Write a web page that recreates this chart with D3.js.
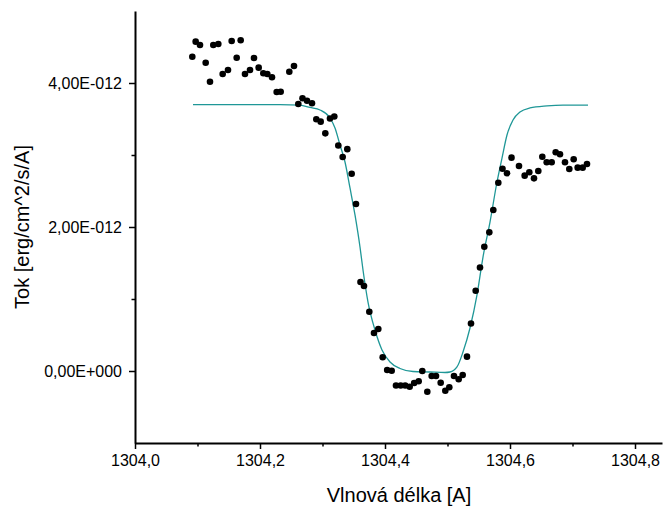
<!DOCTYPE html>
<html>
<head>
<meta charset="utf-8">
<script src="https://cdn.jsdelivr.net/npm/d3@7"></script>
<style>
  html, body { margin: 0; padding: 0; background: #fff; }
  svg { display: block; }
  text { font-family: "Liberation Sans", Arial, sans-serif; }
</style>
</head>
<body>
<svg id="chart" width="664" height="509"></svg>
<script>
// ---- data (flux in units of 1e-12 erg/cm^2/s/A) ----
const obsWave = [
  1304.0917, 1304.0971, 1304.1040, 1304.1131, 1304.1200, 1304.1253, 1304.1333, 1304.1403,
  1304.1488, 1304.1547, 1304.1627, 1304.1691, 1304.1760, 1304.1840, 1304.1904, 1304.1979,
  1304.2053, 1304.2117, 1304.2192, 1304.2267, 1304.2331, 1304.2469, 1304.2544, 1304.2613,
  1304.2680, 1304.2752, 1304.2832, 1304.2901, 1304.2971, 1304.3045, 1304.3120, 1304.3189,
  1304.3253, 1304.3323, 1304.3397, 1304.3467, 1304.3536, 1304.3608, 1304.3664, 1304.3749,
  1304.3824, 1304.3893, 1304.3963, 1304.4035, 1304.4107, 1304.4176, 1304.4251, 1304.4323,
  1304.4395, 1304.4467, 1304.4539, 1304.4597, 1304.4677, 1304.4747, 1304.4816, 1304.4891,
  1304.4965, 1304.5029, 1304.5104, 1304.5179, 1304.5243, 1304.5312, 1304.5376, 1304.5451,
  1304.5520, 1304.5589, 1304.5669, 1304.5733, 1304.5813, 1304.5880, 1304.5952, 1304.6024,
  1304.6144, 1304.6235, 1304.6309, 1304.6384, 1304.6453, 1304.6517, 1304.6587, 1304.6667,
  1304.6731, 1304.6800, 1304.6880, 1304.6949, 1304.7019, 1304.7083, 1304.7163, 1304.7232
];
const obsFlux = [
  4.365, 4.574, 4.528, 4.282, 4.018, 4.528, 4.542, 4.125,
  4.181, 4.583, 4.351, 4.593, 4.125, 4.181, 4.347, 4.213,
  4.135, 4.125, 4.079, 3.875, 3.879, 4.157, 4.236, 3.708,
  3.788, 3.753, 3.718, 3.496, 3.463, 3.301, 3.507, 3.535,
  3.132, 2.972, 3.081, 2.739, 2.319, 1.236, 1.181, 0.822,
  0.528, 0.583, 0.192, 0.014, 0.004, -0.201, -0.201, -0.201,
  -0.218, -0.167, -0.142, 0.000, -0.288, -0.069, -0.069, -0.163,
  -0.274, -0.226, -0.069, -0.115, -0.056, 0.199, 0.660, 1.115,
  1.438, 1.726, 1.926, 2.236, 2.615, 2.810, 2.746, 2.963,
  2.847, 2.713, 2.760, 2.676, 2.778, 2.976, 2.899, 2.899,
  3.038, 3.010, 2.899, 2.806, 2.940, 2.824, 2.824, 2.875
];
const fitWave = [
  1304.0928, 1304.2320, 1304.2640, 1304.2800, 1304.2960, 1304.3120, 1304.3200, 1304.3280,
  1304.3360, 1304.3440, 1304.3520, 1304.3600, 1304.3648, 1304.3728, 1304.3840, 1304.3952,
  1304.4080, 1304.4240, 1304.4448, 1304.4720, 1304.4960, 1304.5040, 1304.5152, 1304.5248,
  1304.5360, 1304.5472, 1304.5568, 1304.5680, 1304.5792, 1304.5872, 1304.5952, 1304.6048,
  1304.6160, 1304.6320, 1304.6592, 1304.6848, 1304.7248
];
const fitFlux = [
  3.701, 3.701, 3.694, 3.660, 3.625, 3.514, 3.375, 3.139,
  2.903, 2.542, 2.167, 1.722, 1.403, 0.958, 0.569, 0.292,
  0.125, 0.035, -0.007, -0.014, -0.021, -0.014, 0.056, 0.264,
  0.597, 1.056, 1.583, 2.069, 2.625, 2.958, 3.278, 3.486,
  3.597, 3.653, 3.683, 3.694, 3.694
];
const xMajorTicks = [1304.0, 1304.2, 1304.4, 1304.6, 1304.8];
const xMajorLabels = ["1304,0", "1304,2", "1304,4", "1304,6", "1304,8"];
const xMinorTicks = [1304.1, 1304.3, 1304.5, 1304.7];
const yMajorTicks = [0, 2, 4];
const yMajorLabels = ["0,00E+000", "2,00E-012", "4,00E-012"];
const yMinorTicks = [1, 3];
const xTitle = "Vlnová délka [A]";
const yTitle = "Tok [erg/cm^2/s/A]";

// ---- layout ----
const svg = d3.select("#chart");
const pLeft = 135, pRight = 662, pTop = 11, pBottom = 443;

const x = d3.scaleLinear().domain([1304.0, 1304.8432]).range([pLeft, pRight]);
const y = d3.scaleLinear().domain([-1, 5]).range([pBottom, pTop]);

// fitted curve
const line = d3.line()
  .x((d, i) => x(fitWave[i]))
  .y((d, i) => y(fitFlux[i]))
  .curve(d3.curveMonotoneX);
svg.append("path")
  .datum(fitFlux)
  .attr("d", line)
  .attr("fill", "none")
  .attr("stroke", "#1f9797")
  .attr("stroke-width", 1.3);

// observed points
svg.append("g").selectAll("circle")
  .data(obsFlux)
  .join("circle")
  .attr("cx", (d, i) => x(obsWave[i]))
  .attr("cy", d => y(d))
  .attr("r", 3.3)
  .attr("fill", "#000");

// axes
const fontSize = 16;
const xAxis = d3.axisBottom(x)
  .tickValues(xMajorTicks)
  .tickFormat((d, i) => xMajorLabels[i])
  .tickSize(6).tickSizeOuter(0).tickPadding(6);
const gx = svg.append("g").attr("transform", `translate(0,${pBottom})`).call(xAxis);
gx.selectAll("text").attr("font-size", fontSize).attr("fill", "#000");

const xMinor = d3.axisBottom(x).tickValues(xMinorTicks).tickFormat("").tickSize(3.5).tickSizeOuter(0);
const gxm = svg.append("g").attr("transform", `translate(0,${pBottom})`).call(xMinor);
gxm.select(".domain").remove();

const yAxis = d3.axisLeft(y)
  .tickValues(yMajorTicks)
  .tickFormat((d, i) => yMajorLabels[i])
  .tickSize(6).tickSizeOuter(0).tickPadding(7);
const gy = svg.append("g").attr("transform", `translate(${pLeft},0)`).call(yAxis);
gy.selectAll("text").attr("font-size", fontSize).attr("fill", "#000");

const yMinor = d3.axisLeft(y).tickValues(yMinorTicks).tickFormat("").tickSize(3.5).tickSizeOuter(0);
const gym = svg.append("g").attr("transform", `translate(${pLeft},0)`).call(yMinor);
gym.select(".domain").remove();

svg.selectAll(".domain").attr("stroke", "#000").attr("stroke-width", 2);
svg.selectAll(".tick line").attr("stroke", "#000").attr("stroke-width", 1.5);

// titles
svg.append("text")
  .attr("x", 399)
  .attr("y", 502)
  .attr("text-anchor", "middle")
  .attr("font-size", 20)
  .text(xTitle);

svg.append("text")
  .attr("transform", `translate(29,227) rotate(-90)`)
  .attr("text-anchor", "middle")
  .attr("font-size", 20)
  .text(yTitle);
</script>
</body>
</html>
